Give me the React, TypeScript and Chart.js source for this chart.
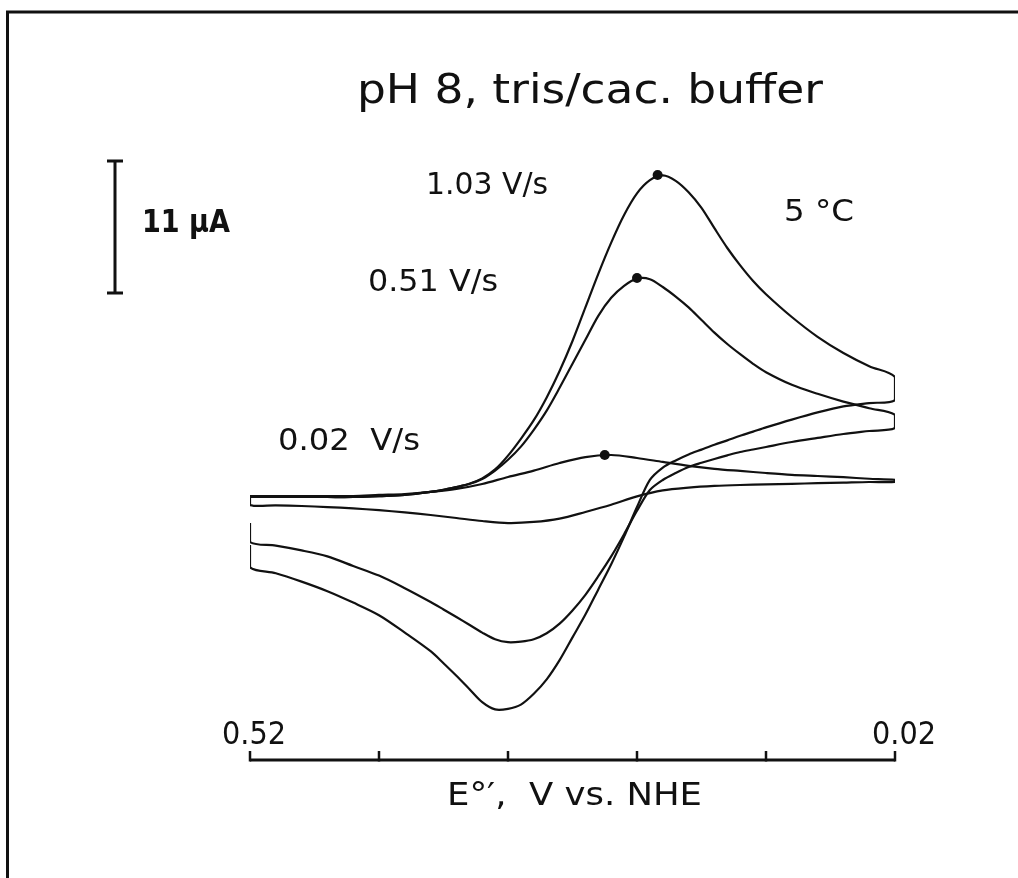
import React, { useEffect, useRef } from "react";
import { Chart, registerables } from "chart.js";

Chart.register(...registerables);

// Potential grids (V vs. NHE)
const fastFwdPotentials = [
  0.52, 0.5, 0.48, 0.46, 0.44, 0.42, 0.4,
  0.38, 0.37, 0.36, 0.35, 0.34, 0.33, 0.32, 0.31, 0.3, 0.29, 0.28, 0.27, 0.26, 0.25, 0.24, 0.23, 0.22, 0.21, 0.2,
  0.19, 0.18, 0.17, 0.16, 0.15, 0.14, 0.13, 0.12,
  0.1, 0.08, 0.06, 0.04, 0.02,
];
const fastRevPotentials = [
  0.02, 0.04, 0.06, 0.08, 0.1,
  0.12, 0.13, 0.14, 0.15, 0.16, 0.17, 0.18, 0.19, 0.2, 0.21, 0.22, 0.23, 0.24, 0.25, 0.26, 0.27, 0.28, 0.29, 0.3,
  0.31, 0.32, 0.33, 0.34, 0.35, 0.36, 0.37, 0.38,
  0.4, 0.42, 0.44, 0.46, 0.48, 0.5, 0.52, 0.52,
];
const slowFwdPotentials = [
  0.52, 0.5, 0.48, 0.46, 0.44, 0.42, 0.4, 0.38, 0.36, 0.34, 0.32, 0.3, 0.28,
  0.26, 0.24, 0.22, 0.2, 0.18, 0.16, 0.14, 0.12, 0.1, 0.08, 0.06, 0.04, 0.02,
];
const slowRevPotentials = [
  0.02, 0.04, 0.06, 0.08, 0.1, 0.12, 0.14, 0.16, 0.18, 0.2, 0.22, 0.24, 0.26,
  0.28, 0.3, 0.32, 0.34, 0.36, 0.38, 0.4, 0.42, 0.44, 0.46, 0.48, 0.5, 0.52, 0.52,
];

// Currents (µA) — 1.03 V/s
const fwd103 = [
  0, 0, 0, 0, 0, 0.08, 0.17,
  0.42, 0.6, 0.83, 1.1, 1.55, 2.3, 3.45, 4.85, 6.4, 8.3, 10.5, 13.0, 15.8, 18.6, 21.2, 23.5, 25.3, 26.4, 26.8,
  26.35, 25.4, 24.1, 22.4, 20.75, 19.3, 18.0, 16.9,
  15.0, 13.35, 12.0, 10.9, 10.0,
];
const rev103 = [
  8.08, 7.83, 7.55, 7.05, 6.45,
  5.8, 5.45, 5.1, 4.72, 4.35, 3.95, 3.55, 3.05, 2.45, 1.42, -0.84, -3.3, -5.6, -7.7, -9.8, -11.7, -13.6, -15.2, -16.4,
  -17.3, -17.65, -17.7, -17.1, -16.0, -14.9, -13.85, -12.85,
  -11.3, -9.85, -8.8, -7.85, -7.05, -6.35, -5.85, -4.0,
];
// 0.51 V/s
const fwd051 = [
  0, 0, 0, 0, 0, 0.08, 0.17,
  0.42, 0.6, 0.83, 1.08, 1.5, 2.2, 3.1, 4.2, 5.6, 7.2, 9.1, 11.1, 13.1, 15.1, 16.6, 17.6, 18.2, 18.15, 17.5,
  16.7, 15.8, 14.75, 13.7, 12.75, 11.9, 11.1, 10.4,
  9.35, 8.6, 7.95, 7.4, 6.85,
];
const rev051 = [
  5.75, 5.5, 5.25, 4.92, 4.58,
  4.17, 3.96, 3.75, 3.47, 3.17, 2.85, 2.5, 2.0, 1.42, 0.58, -1.15, -3.1, -4.95, -6.6, -8.15, -9.45, -10.55, -11.35, -11.85,
  -12.05, -12.1, -11.85, -11.3, -10.65, -10.0, -9.37, -8.75,
  -7.6, -6.55, -5.75, -4.95, -4.45, -4.05, -3.75, -2.17,
];
// 0.02 V/s
const fwd002 = [
  0.08, 0.08, 0.08, 0.08, 0.08, 0.17, 0.25, 0.42, 0.67, 1.08, 1.67, 2.2, 2.83,
  3.33, 3.5, 3.25, 2.92, 2.6, 2.35, 2.17, 2.0, 1.85, 1.75, 1.65, 1.52, 1.42,
];
const rev002 = [
  1.25, 1.25, 1.2, 1.15, 1.1, 1.05, 1.0, 0.92, 0.78, 0.55, 0.05, -0.65, -1.25,
  -1.8, -2.08, -2.17, -2.0, -1.75, -1.5, -1.28, -1.1, -0.95, -0.84, -0.75, -0.7, -0.67, 0.08,
];

// Anodic peak markers
const peakPotentials = [0.204, 0.22, 0.245];
const peakCurrents = [26.83, 18.25, 3.5];

const scanRateLabels = ["1.03 V/s", "0.51 V/s", "0.02  V/s"];
const xTickValues = [0.52, 0.42, 0.32, 0.22, 0.12, 0.02];
const xTickLabels = ["0.52", "", "", "", "", "0.02"];
const scaleBarTop = 28; // µA
const scaleBarSpan = 11; // µA
const titleText = "pH 8, tris/cac. buffer";
const tempText = "5 \u00B0C";
const xAxisTitle = "E\u00B0\u2032,  V vs. NHE";
const scaleBarLabel = "11 \u00B5A";

const pts = (es: number[], is: number[]) => es.map((e, k) => ({ x: e, y: is[k] }));

const FONT = '"DejaVu Sans", "Liberation Sans", sans-serif';

function fitText(
  ctx: CanvasRenderingContext2D,
  text: string,
  x: number,
  baseline: number,
  width: number,
  size: number,
  weight = "normal"
) {
  ctx.save();
  ctx.font = `${weight} ${size}px ${FONT}`;
  const w = ctx.measureText(text).width;
  ctx.translate(x, baseline);
  ctx.scale(width / w, 1);
  ctx.fillStyle = "#111";
  ctx.textBaseline = "alphabetic";
  ctx.textAlign = "left";
  ctx.fillText(text, 0, 0);
  ctx.restore();
}

const decorPlugin = {
  id: "decor",
  afterDraw(chart: any) {
    const ctx: CanvasRenderingContext2D = chart.ctx;
    const xs = chart.scales.x;
    const ys = chart.scales.y;
    ctx.save();
    ctx.strokeStyle = "#111";
    ctx.lineCap = "butt";
    // frame
    ctx.lineWidth = 3;
    ctx.beginPath();
    ctx.moveTo(6, 12);
    ctx.lineTo(1018, 12);
    ctx.moveTo(7.5, 11);
    ctx.lineTo(7.5, 878);
    ctx.stroke();

    // x axis
    const axisY = 760;
    ctx.lineWidth = 3;
    ctx.beginPath();
    ctx.moveTo(xs.getPixelForValue(xTickValues[0]), axisY);
    ctx.lineTo(xs.getPixelForValue(xTickValues[xTickValues.length - 1]), axisY);
    ctx.stroke();
    ctx.lineWidth = 2.5;
    xTickValues.forEach((v, i) => {
      const px = xs.getPixelForValue(v);
      ctx.beginPath();
      ctx.moveTo(px, axisY + 1.5);
      ctx.lineTo(px, axisY - 9);
      ctx.stroke();
      if (xTickLabels[i]) {
        fitText(ctx, xTickLabels[i], px - 28 + (i === 0 ? 0 : 5), 744, 64, 32);
      }
    });
    fitText(ctx, xAxisTitle, 447, 805, 255, 32);

    // scale bar
    const bx = 115;
    const by0 = ys.getPixelForValue(scaleBarTop);
    const by1 = ys.getPixelForValue(scaleBarTop - scaleBarSpan);
    ctx.lineWidth = 3;
    ctx.beginPath();
    ctx.moveTo(bx, by0);
    ctx.lineTo(bx, by1);
    ctx.moveTo(bx - 8, by0);
    ctx.lineTo(bx + 8, by0);
    ctx.moveTo(bx - 8, by1);
    ctx.lineTo(bx + 8, by1);
    ctx.stroke();
    fitText(ctx, scaleBarLabel, 142, 232, 88, 32, "bold");

    // texts
    fitText(ctx, titleText, 357, 103, 466, 40);
    fitText(ctx, scanRateLabels[0], 426, 194, 122, 31);
    fitText(ctx, scanRateLabels[1], 368, 291, 130, 31);
    fitText(ctx, scanRateLabels[2], 278, 450, 142, 31);
    fitText(ctx, tempText, 784, 221, 70, 31);
    ctx.restore();
  },
};

export default function App() {
  const ref = useRef<HTMLCanvasElement | null>(null);
  useEffect(() => {
    if (!ref.current) return;
    const lineDs = (data: any[]) => ({
      data,
      showLine: true,
      borderColor: "#111",
      borderWidth: 2.2,
      pointRadius: 0,
      tension: 0.3,
      fill: false,
    });
    const chart = new Chart(ref.current, {
      type: "scatter",
      data: {
        datasets: [
          lineDs([...pts(fastFwdPotentials, fwd103), ...pts(fastRevPotentials, rev103)]),
          lineDs([...pts(fastFwdPotentials, fwd051), ...pts(fastRevPotentials, rev051)]),
          lineDs([...pts(slowFwdPotentials, fwd002), ...pts(slowRevPotentials, rev002)]),
          {
            data: pts(peakPotentials, peakCurrents),
            showLine: false,
            pointRadius: 5,
            pointBackgroundColor: "#111",
            pointBorderColor: "#111",
            pointBorderWidth: 0,
          } as any,
        ],
      },
      options: {
        animation: false,
        responsive: false,
        devicePixelRatio: 1,
        layout: { padding: { left: 250, right: 123, top: 161, bottom: 117 } },
        plugins: { legend: { display: false }, tooltip: { enabled: false }, title: { display: false } },
        scales: {
          x: { type: "linear", reverse: true, min: 0.02, max: 0.52, display: false },
          y: { type: "linear", min: -22, max: 28, display: false },
        },
        events: [],
      },
      plugins: [decorPlugin],
    });
    return () => chart.destroy();
  }, []);
  return (
    <div style={{ position: "absolute", left: 0, top: 0, width: 1018, height: 878, background: "#fff" }}>
      <canvas ref={ref} width={1018} height={878} style={{ display: "block" }} />
    </div>
  );
}
